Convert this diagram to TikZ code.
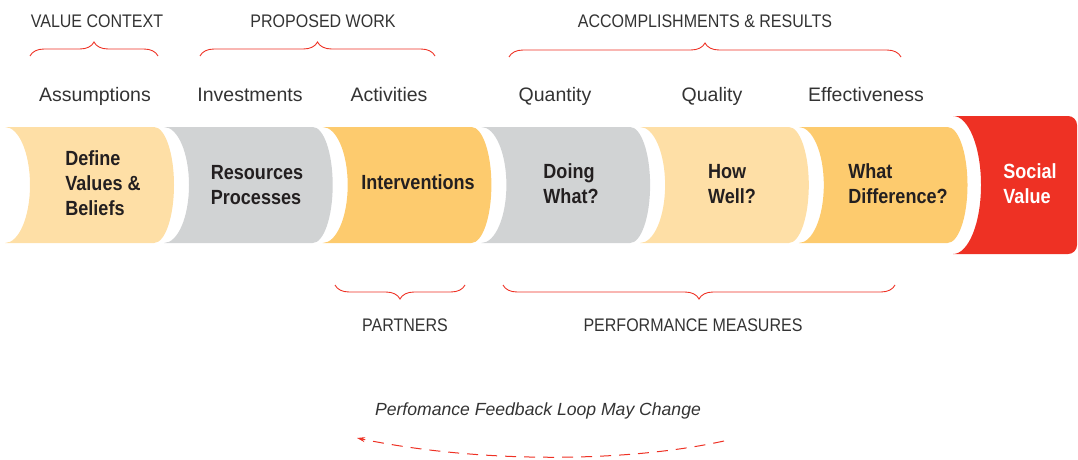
\documentclass[tikz,border=0pt]{standalone}
\usepackage{fontspec}
\setmainfont{Liberation Sans}
\newfontfamily\segfont[FakeStretch=0.88]{Liberation Sans}
\newfontfamily\capfont[FakeStretch=0.88]{Liberation Sans}
\usetikzlibrary{arrows.meta,decorations.pathreplacing}

\definecolor{peach}{HTML}{FEDFA6}
\definecolor{gold}{HTML}{FDCB6E}
\definecolor{lightgray}{HTML}{D1D3D4}
\definecolor{socialred}{HTML}{EE3124}
\definecolor{darktext}{HTML}{231F20}
\definecolor{labeltext}{HTML}{333333}

\begin{document}
\begin{tikzpicture}[x=1pt, y=-1pt]
    \useasboundingbox (0,0) rectangle (1078,460);
    \begin{scope}[seg/.style={align=left, text=darktext, font=\segfont\bfseries\fontsize{20.5}{25}\selectfont},
                  lbl/.style={anchor=base, text=labeltext, font=\fontsize{19.5}{22}\selectfont},
                  grouplbl/.style={anchor=base, text=labeltext, font=\capfont\fontsize{18.2}{20}\selectfont},
                  brace/.style={draw=socialred, line width=0.9pt, decorate, decoration={brace, amplitude=14pt}}]
        % segments
        \fill[peach] (5,127) -- (154,127) arc[start angle=-90, end angle=90, x radius=20, y radius=58] -- (5,243) arc[start angle=90, end angle=-90, x radius=25, y radius=58] -- cycle;
        \fill[lightgray] (164,127) -- (312.7,127) arc[start angle=-90, end angle=90, x radius=20, y radius=58] -- (164,243) arc[start angle=90, end angle=-90, x radius=25, y radius=58] -- cycle;
        \fill[gold] (322.7,127) -- (471.4,127) arc[start angle=-90, end angle=90, x radius=20, y radius=58] -- (322.7,243) arc[start angle=90, end angle=-90, x radius=25, y radius=58] -- cycle;
        \fill[lightgray] (481.4,127) -- (630.1,127) arc[start angle=-90, end angle=90, x radius=20, y radius=58] -- (481.4,243) arc[start angle=90, end angle=-90, x radius=25, y radius=58] -- cycle;
        \fill[peach] (640.1,127) -- (788.8,127) arc[start angle=-90, end angle=90, x radius=20, y radius=58] -- (640.1,243) arc[start angle=90, end angle=-90, x radius=25, y radius=58] -- cycle;
        \fill[gold] (798.8,127) -- (947.5,127) arc[start angle=-90, end angle=90, x radius=20, y radius=58] -- (798.8,243) arc[start angle=90, end angle=-90, x radius=25, y radius=58] -- cycle;
        \fill[socialred] (953,116) -- (1068,116) arc[start angle=-90, end angle=0, radius=9] -- (1077,245) arc[start angle=0, end angle=90, radius=9] -- (953,254) arc[start angle=90, end angle=-90, x radius=28, y radius=69] -- cycle;
        \node[seg] (define) at (103,183) {Define\\Values \&\\Beliefs};
        \node[seg] (resources) at (257,185) {Resources\\Processes};
        \node[seg] (interventions) at (418,182) {Interventions};
        \node[seg] (doing) at (571,184) {Doing\\What?};
        \node[seg] (howwell) at (732,184) {How\\Well?};
        \node[seg] (difference) at (898,184) {What\\Difference?};
        \node[seg, text=white] (social) at (1030,184) {Social\\Value};
        % labels above
        \node[lbl] (assumptions) at (95,101) {Assumptions};
        \node[lbl] (investments) at (250,101) {Investments};
        \node[lbl] (activities) at (389,101) {Activities};
        \node[lbl] (quantity) at (555,101) {Quantity};
        \node[lbl] (quality) at (712,101) {Quality};
        \node[lbl] (effectiveness) at (866,101) {Effectiveness};
        % groups
        \node[grouplbl] (context) at (97,28) {VALUE CONTEXT};
        \node[grouplbl] (proposed) at (323,28) {PROPOSED WORK};
        \node[grouplbl] (results) at (705,28) {ACCOMPLISHMENTS \& RESULTS};
        \node[grouplbl] (partners) at (405,331) {PARTNERS};
        \node[grouplbl] (measures) at (693,331) {PERFORMANCE MEASURES};
        \coordinate (vc1) at (30,56);
        \coordinate (vc2) at (158,56);
        \coordinate (pw1) at (200,56);
        \coordinate (pw2) at (435,56);
        \coordinate (ar1) at (509,57);
        \coordinate (ar2) at (901,57);
        \coordinate (pa1) at (335,285);
        \coordinate (pa2) at (465,285);
        \coordinate (pm1) at (503,285);
        \coordinate (pm2) at (895,285);
        \draw[brace] (vc1) -- (vc2);
        \draw[brace] (pw1) -- (pw2);
        \draw[brace] (ar1) -- (ar2);
        \draw[brace] (pa2) -- (pa1);
        \draw[brace] (pm2) -- (pm1);
        % feedback loop
        \node[anchor=base, text=labeltext, font=\itshape\fontsize{17.6}{20}\selectfont] (feedback) at (538,415) {Perfomance Feedback Loop May Change};
        \coordinate (fb1) at (724,441);
        \coordinate (fb2) at (357,438);
        \draw[socialred, line width=1pt, dash pattern=on 11pt off 8pt, -{Stealth[length=8pt, width=5pt]}] (fb1) .. controls +(-100,22) and +(120,25) .. (fb2);
    \end{scope}
\end{tikzpicture}
\end{document}
